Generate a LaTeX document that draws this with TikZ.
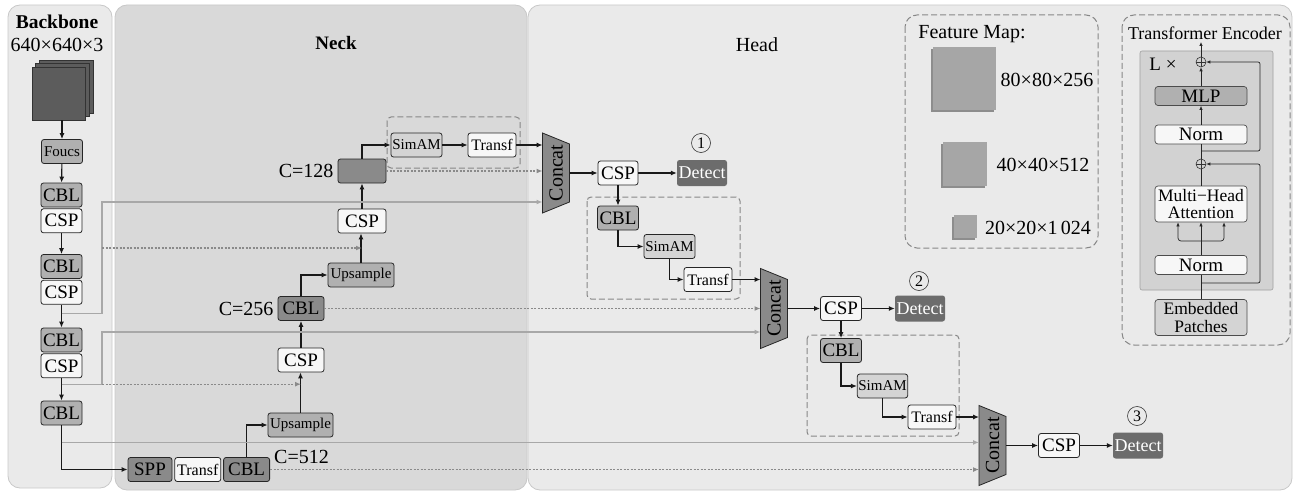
\documentclass[tikz,border=0pt]{standalone}
\usepackage{fontspec}
\setmainfont{Liberation Serif}
\usetikzlibrary{arrows.meta, positioning, calc}

\definecolor{PanelSide}{RGB}{234,234,234}
\definecolor{PanelNeck}{RGB}{217,217,217}
\definecolor{PanelEdge}{RGB}{200,200,200}
\definecolor{BoxMid}{RGB}{176,176,176}
\definecolor{BoxDark}{RGB}{138,138,138}
\definecolor{BoxLight}{RGB}{212,212,212}
\definecolor{BoxWhite}{RGB}{247,247,247}
\definecolor{DetectFill}{RGB}{108,108,108}
\definecolor{SkipGray}{RGB}{168,168,168}
\definecolor{DotGray}{RGB}{138,138,138}
\definecolor{CubeFill}{RGB}{92,92,92}
\definecolor{MapFill}{RGB}{166,166,166}
\definecolor{EncFill}{RGB}{210,210,210}
\definecolor{FrameGray}{RGB}{135,135,135}

\tikzset{
  bigtxt/.style={font=\fontsize{19}{21}\selectfont},
  smalltxt/.style={font=\fontsize{15}{17}\selectfont},
  block/.style={draw=black!85, line width=0.8pt, rounded corners=2.5pt,
    inner sep=1pt, minimum height=24pt, bigtxt},
  cblbox/.style={block, fill=BoxMid, minimum width=41pt},
  cspbox/.style={block, fill=BoxWhite, minimum width=41pt},
  darkbox/.style={block, fill=BoxDark, minimum width=46pt},
  upbox/.style={block, fill=BoxMid, smalltxt, minimum width=65pt},
  simbox/.style={block, fill=BoxLight, smalltxt, minimum width=50pt},
  trbox/.style={block, fill=BoxWhite, font=\fontsize{16}{18}\selectfont, minimum width=48pt},
  detbox/.style={fill=DetectFill, text=white, rounded corners=2.5pt,
    minimum width=50pt, minimum height=26pt, inner sep=1pt,
    font=\fontsize{18}{20}\selectfont},
  numcirc/.style={circle, draw=black!80, line width=0.6pt, minimum size=19pt,
    inner sep=0pt, font=\fontsize{16}{16}\selectfont},
  clabel/.style={inner sep=0pt, font=\fontsize{20}{22}\selectfont},
  headtxt/.style={inner sep=0pt, font=\fontsize{20}{22}\selectfont},
  catshape/.style={fill=BoxDark, draw=black!85, line width=0.8pt},
  cattext/.style={rotate=90, inner sep=0pt, font=\fontsize{20}{22}\selectfont},
  panel/.style={draw=PanelEdge, line width=0.8pt, rounded corners=12pt},
  groupbox/.style={draw=FrameGray, line width=1pt, dash pattern=on 6pt off 3pt,
    rounded corners=4pt},
  flow/.style={black!90, line width=1.1pt, -{Latex[length=6pt,width=5pt]}},
  skipline/.style={SkipGray, line width=1.3pt, -{Latex[length=6pt,width=5pt]}},
  dotflow/.style={DotGray, line width=1.3pt, dash pattern=on 2pt off 1.5pt,
    -{Latex[length=6pt,width=5pt]}},
  tebox/.style={draw=black!70, line width=0.7pt, rounded corners=3pt,
    minimum width=92pt, minimum height=19pt, inner sep=1pt, fill=BoxWhite,
    font=\fontsize{19}{19}\selectfont},
  tetwo/.style={tebox, align=center, minimum height=36pt,
    font=\fontsize{17.5}{17.5}\selectfont},
  teflow/.style={black!85, line width=0.7pt, -{Latex[length=4pt,width=3.5pt]}},
  teline/.style={black!85, line width=0.7pt},
  oplus/.style={circle, draw=black!80, line width=0.6pt, minimum size=10pt,
    inner sep=0pt, path picture={
      \draw[black!80, line width=0.6pt]
        (path picture bounding box.north) -- (path picture bounding box.south)
        (path picture bounding box.west) -- (path picture bounding box.east);}}
}

\begin{document}
\begin{tikzpicture}[x=1pt,y=-1pt]
\useasboundingbox (0,0) rectangle (1295,492);

% panels
\filldraw[panel, fill=PanelSide] (8,5) rectangle (112,488);
\filldraw[panel, fill=PanelNeck] (115,5) rectangle (527,490);
\filldraw[panel, fill=PanelSide] (528,5) rectangle (1292,490);

\node[headtxt, font=\fontsize{19.5}{21}\selectfont\bfseries] (bbtitle) at (57,22) {Backbone};
\node[headtxt] (insize) at (57,45) {640×640×3};
\node[headtxt, font=\fontsize{19}{21}\selectfont\bfseries] (necktitle) at (336,43) {Neck};
\node[headtxt] (headtitle) at (757,45) {Head};

% dashed groups
\draw[groupbox] (387,117) rectangle (520,168);
\draw[groupbox] (587,197) rectangle (740,299);
\draw[groupbox] (807,335) rectangle (959,436);

% input image
\foreach \d in {7,3.5}
  \filldraw[fill=CubeFill, draw=black!80, line width=0.6pt] (32+\d,67-\d) rectangle (86+\d,120-\d);
\node[fill=CubeFill, draw=black!80, line width=0.6pt, minimum size=53pt, inner sep=0pt] (img) at (59,93.5) {};

% backbone
\node[cblbox, smalltxt] (foucs) at (62,151.5) {Foucs};
\node[cblbox] (cbl1) at (61.5,195) {CBL};
\node[cspbox, below=1pt of cbl1] (csp1) {CSP};
\node[cblbox] (cbl2) at (61.5,266.5) {CBL};
\node[cspbox, below=1pt of cbl2] (csp2) {CSP};
\node[cblbox] (cbl3) at (61.5,340) {CBL};
\node[cspbox, below=1pt of cbl3] (csp3) {CSP};
\node[cblbox] (cbl4) at (61.5,413) {CBL};

% neck
\node[darkbox, minimum width=44pt] (spp) at (150,469.5) {SPP};
\node[trbox, minimum width=46pt, right=2pt of spp] (trn) {Transf};
\node[darkbox, right=2pt of trn] (cbl5) {CBL};
\node[clabel, anchor=west] (c512) at ($(cbl5.north east)+(4,0)$) {C=512};
\node[upbox] (up1) at (300.5,425) {Upsample};
\node[cspbox, minimum width=46pt] (cspn1) at (301,360) {CSP};
\node[darkbox] (cbl6) at (301,308.5) {CBL};
\node[clabel, left=4pt of cbl6] (c256) {C=256};
\node[upbox, minimum width=66pt] (up2) at (361,275) {Upsample};
\node[cspbox, minimum width=48pt] (cspn2) at (362,221) {CSP};
\node[darkbox, minimum width=48pt] (c128) at (362,171) {};
\node[clabel, left=4pt of c128] (c128lbl) {C=128};
\node[simbox, minimum width=51pt] (sim1) at (416.5,145) {SimAM};
\node[trbox] (tr1) at (492,145) {Transf};

% concat blocks
\foreach \n/\cx/\cy in {1/556/173, 2/774/308.5, 3/992.5/445.5}{
  \filldraw[catshape] (\cx-13.5,\cy-40) -- (\cx+13.5,\cy-29) -- (\cx+13.5,\cy+29) -- (\cx-13.5,\cy+40) -- cycle;
  \node[cattext] (cat\n) at (\cx,\cy) {Concat};
  \coordinate (catw\n) at (\cx-13.5,\cy);
  \coordinate (cate\n) at (\cx+13.5,\cy);
}

% head
\node[cspbox, minimum width=40pt] (csph1) at (618,173) {CSP};
\node[detbox] (det1) at (702,173) {Detect};
\node[numcirc] (num1) at (701,143) {1};
\node[cblbox] (cblh1) at (618,218) {CBL};
\node[simbox, minimum width=51pt] (simh1) at (669.5,246.5) {SimAM};
\node[trbox] (trh1) at (708,279.5) {Transf};

\node[cspbox] (csph2) at (841,308.5) {CSP};
\node[detbox] (det2) at (920,308.5) {Detect};
\node[numcirc] (num2) at (919,281) {2};
\node[cblbox] (cblh2) at (841,350.5) {CBL};
\node[simbox] (simh2) at (882.5,386) {SimAM};
\node[trbox] (trh2) at (932,417) {Transf};

\node[cspbox] (csph3) at (1059,445.5) {CSP};
\node[detbox] (det3) at (1138,445.5) {Detect};
\node[numcirc] (num3) at (1137,416) {3};

% main flow
\draw[flow] (img.south -| foucs) -- (foucs);
\draw[flow] (foucs) -- (cbl1);
\draw[flow] (csp1) -- (cbl2);
\draw[flow] (csp2) -- (cbl3);
\draw[flow] (csp3) -- (cbl4);
\draw[flow] (cbl4.south) |- (spp.west);
\draw[flow] (cbl5.north) |- (up1.west);
\draw[flow] (up1) -- (up1 |- cspn1.south);
\draw[flow] (cspn1) -- (cbl6);
\draw[flow] (cbl6.north) |- (up2.west);
\draw[flow] (up2) -- (up2 |- cspn2.south);
\draw[flow] (cspn2) -- (c128);
\draw[flow] (c128.north) |- (sim1.west);
\draw[flow] (sim1) -- (tr1);
\draw[flow] (tr1.east) -- (tr1.east -| catw1);

\draw[flow] (cate1) -- (cate1 -| csph1.west);
\draw[flow] (csph1) -- (det1);
\draw[flow] (csph1) -- (cblh1);
\draw[flow] (cblh1.south) |- (simh1.west);
\draw[flow] (simh1.south) |- (trh1.west);
\draw[flow] (trh1.east) -- (trh1.east -| catw2);

\draw[flow] (cate2) -- (cate2 -| csph2.west);
\draw[flow] (csph2) -- (det2);
\draw[flow] (csph2) -- (cblh2);
\draw[flow] (cblh2.south) |- (simh2.west);
\draw[flow] (simh2.south) |- (trh2.west);
\draw[flow] (trh2.east) -- (trh2.east -| catw3);

\draw[flow] (cate3) -- (cate3 -| csph3.west);
\draw[flow] (csph3) -- (det3);

% skip connections
\coordinate (tap1) at ($(csp2.south)+(0,8.5)$);
\coordinate (knee1) at (102,202);
\coordinate (dot1) at (102,248);
\draw[skipline] (tap1) -| (knee1) -- (knee1 -| catw1);
\draw[dotflow] (dot1) -- (dot1 -| cspn2);

\coordinate (tap2) at ($(csp3.south)+(0,6)$);
\coordinate (knee2) at (102,332);
\coordinate (dot2) at (tap2 -| knee2);
\draw[skipline] (tap2) -| (knee2) -- (knee2 -| catw2);
\draw[dotflow] (dot2) -- (dot2 -| cspn1);

\coordinate (tap3) at ($(cbl4.south)+(0,17)$);
\draw[skipline] (tap3) -- (tap3 -| catw3);

\draw[dotflow] (c128.east) -- (c128.east -| catw1);
\draw[dotflow] (cbl6.east) -- (cbl6.east -| catw2);
\draw[dotflow] (cbl5.east) -- (cbl5.east -| catw3);

% feature map legend
\draw[groupbox, rounded corners=12pt] (905,15) rectangle (1098,248);
\node[headtxt] (fmtitle) at (972,34) {Feature Map:};
\foreach \xa/\ya/\s in {933/47/63, 943/142/44, 954/215/23}{
  \fill[MapFill!85!black] (\xa-2,\ya+2) rectangle +(\s,\s);
  \fill[MapFill] (\xa,\ya) rectangle +(\s,\s);
}
\node[headtxt] (fm1) at (1047,80) {80×80×256};
\node[headtxt] (fm2) at (1043,165) {40×40×512};
\node[headtxt] (fm3) at (1038,228) {20×20×1\,024};

% transformer encoder
\draw[groupbox, rounded corners=12pt] (1122,15) rectangle (1290,345);
\node[inner sep=0pt, font=\fontsize{18}{20}\selectfont] (tetitle) at (1205,33) {Transformer Encoder};
\filldraw[fill=EncFill, draw=PanelEdge!80!black, line width=0.6pt, rounded corners=2pt] (1140,51) rectangle (1273,290);
\node[headtxt, font=\fontsize{19}{21}\selectfont] (ltimes) at (1163,64) {L ×};
\node[oplus] (plus1) at (1201,62) {};
\node[tebox, fill=BoxMid] (mlp) at (1201,96) {MLP};
\node[tebox] (norm1) at (1201,134.5) {Norm};
\node[oplus] (plus2) at (1201,164) {};
\node[tetwo] (mha) at (1201,204) {Multi−Head\\Attention};
\node[tebox] (norm2) at (1201,265) {Norm};
\node[tetwo, fill=BoxLight] (emb) at (1201,317.5) {Embedded\\Patches};
\coordinate (teout) at (1201,42);
\coordinate (fork) at (1201,241);
\coordinate (res1) at (1201,283);
\coordinate (res2) at (1201,151);

\draw[teline] (emb) -- (norm2);
\draw[teflow] (norm2) -- (mha);
\draw[teflow, rounded corners=3pt] (fork) -| ($(mha.south)+(-23,0)$);
\draw[teflow, rounded corners=3pt] (fork) -| ($(mha.south)+(23,0)$);
\draw[teline] (mha) -- (plus2);
\draw[teline] (plus2) -- (norm1);
\draw[teflow] (norm1) -- (mlp);
\draw[teflow] (mlp) -- (plus1);
\draw[teflow] (plus1) -- (teout);
\draw[teflow, rounded corners=2pt] (res1) -- ++(59,0) |- (plus2.east);
\draw[teflow, rounded corners=2pt] (res2) -- ++(59,0) |- (plus1.east);
\end{tikzpicture}
\end{document}
